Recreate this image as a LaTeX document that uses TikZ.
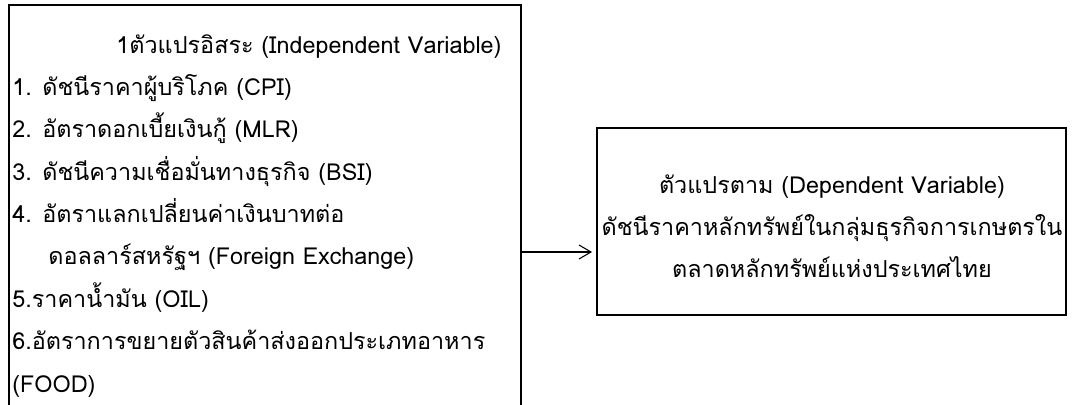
\documentclass[tikz,border=0pt]{standalone}
\usepackage{fontspec}
\newfontfamily\thaifont[Script=Thai]{Loma}
\usetikzlibrary{arrows.meta}
\tikzset{
  frame/.style={draw, line width=1.1pt, inner sep=0pt},
  txt/.style={inner sep=0pt, font=\thaifont\fontsize{13.3}{15}\selectfont},
}
\begin{document}
\begin{tikzpicture}[x=0.2mm,y=-0.2mm]
  \useasboundingbox (0,0) rectangle (1074,405);
  % independent variables
  \node [frame, minimum width=512*0.2mm, minimum height=494*0.2mm] (indep) at (265,252) {};
  \node [txt, anchor=base] (title) at (309,54) {1ตัวแปรอิสระ (Independent Variable)};
  \node [txt, anchor=base west] (cpi) at (12,96) {1. ดัชนีราคาผู้บริโภค (CPI)};
  \node [txt, anchor=base west] (mlr) at (12,138) {2. อัตราดอกเบี้ยเงินกู้ (MLR)};
  \node [txt, anchor=base west] (bsi) at (12,181) {3. ดัชนีความเชื่อมั่นทางธุรกิจ (BSI)};
  \node [txt, anchor=base west] (fx) at (12,223) {4. อัตราแลกเปลี่ยนค่าเงินบาทต่อ};
  \node [txt, anchor=base west] (fx2) at (48,265) {ดอลลาร์สหรัฐฯ (Foreign Exchange)};
  \node [txt, anchor=base west] (oil) at (12,307) {5.ราคาน้ำมัน (OIL)};
  \node [txt, anchor=base west] (food) at (12,349) {6.อัตราการขยายตัวสินค้าส่งออกประเภทอาหาร};
  \node [txt, anchor=base west] (food2) at (12,392) {(FOOD)};
  % dependent variable
  \node [frame, minimum width=469*0.2mm, minimum height=187*0.2mm] (dep) at (831.5,221.5) {};
  \node [txt, anchor=base] (dtitle) at (832,194) {ตัวแปรตาม (Dependent Variable)};
  \node [txt, anchor=base] (set) at (832,236) {ดัชนีราคาหลักทรัพย์ในกลุ่มธุรกิจการเกษตรใน};
  \node [txt, anchor=base] (set2) at (832,278) {ตลาดหลักทรัพย์แห่งประเทศไทย};
  \draw [line width=0.6pt, -{Straight Barb[length=2.4mm,width=2.8mm]}] (indep.east) -- ([xshift=-0.8mm]indep.east -| dep.west);
\end{tikzpicture}
\end{document}
